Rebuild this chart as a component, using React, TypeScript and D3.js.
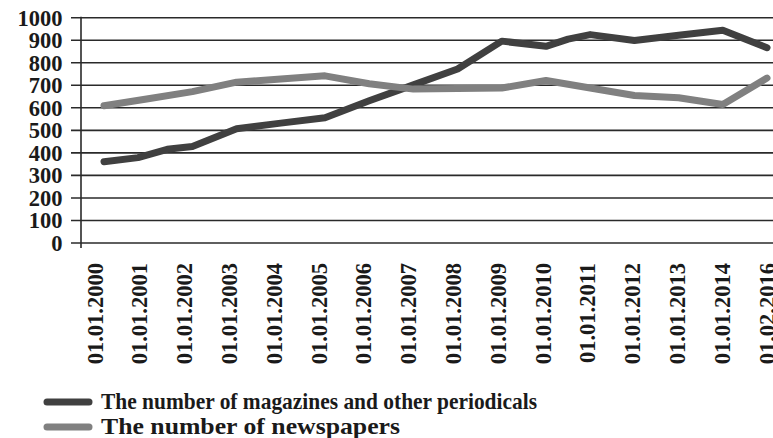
import React from "react";
import * as d3 from "d3";

const xLabels = [
  "01.01.2000", "01.01.2001", "01.01.2002", "01.01.2003", "01.01.2004",
  "01.01.2005", "01.01.2006", "01.01.2007", "01.01.2008", "01.01.2009",
  "01.01.2010", "01.01.2011", "01.01.2012", "01.01.2013", "01.01.2014",
  "01.02.2016",
];
const yTicks = [0, 100, 200, 300, 400, 500, 600, 700, 800, 900, 1000];

// positions in category units (0 = first label, 15 = last label)
const magazinesPos = [0, 0.77, 1.43, 2, 3, 4, 5, 6, 7, 8, 9, 10, 10.5, 11, 12, 13, 14, 15];
const magazinesVals = [361, 379, 416, 428, 507, 532, 556, 631, 702, 772, 896, 873, 905, 925, 899, 922, 944, 867];

const newspapersPos = [0, 1, 2, 3, 4, 5, 6, 7, 8, 9, 10, 11, 12, 13, 14, 15];
const newspapersVals = [609, 640, 672, 714, 728, 742, 707, 683, 686, 688, 721, 688, 655, 645, 615, 732];

const seriesNames = ["The number of magazines and other periodicals", "The number of newspapers"];
const seriesColors = ["#404040", "#808080"];

const W = 773;
const H = 438;
const FONT = "'Liberation Serif', 'Times New Roman', serif";

export default function App() {
  const y = d3.scaleLinear().domain([0, 1000]).range([243, 17.7]);
  const x = d3.scaleLinear().domain([0, 15]).range([104, 767]);
  const xl = d3.scalePoint<string>().domain(xLabels).range([95, 767]);

  const line = d3
    .line<[number, number]>()
    .x((d) => x(d[0]))
    .y((d) => y(d[1]));

  const mag: [number, number][] = magazinesPos.map((p, i) => [p, magazinesVals[i]]);
  const news: [number, number][] = newspapersPos.map((p, i) => [p, newspapersVals[i]]);

  const legendW = [436, 299];

  return (
    <div style={{ position: "absolute", left: 0, top: 0 }}>
      <svg width={W} height={H} style={{ display: "block", background: "#fff" }}>
        {/* gridlines + ticks */}
        {yTicks.map((t) => (
          <line key={t} x1={71} x2={W} y1={y(t)} y2={y(t)} stroke="#2a2a2a" strokeWidth={1.6} />
        ))}
        {/* y axis */}
        <line x1={81} x2={81} y1={y(1000) - 1} y2={248} stroke="#2a2a2a" strokeWidth={1.6} />
        {/* y tick labels */}
        {yTicks.map((t) => (
          <text
            key={t}
            x={62.5}
            y={y(t)}
            dy="0.35em"
            textAnchor="end"
            fontFamily={FONT}
            fontWeight="bold"
            fontSize={22.5}
            fill="#1a1a1a"
          >
            {t}
          </text>
        ))}
        {/* x labels */}
        {xLabels.map((l) => (
          <text
            key={l}
            transform={`translate(${xl(l)},263) rotate(-90)`}
            dy="0.34em"
            textAnchor="end"
            fontFamily={FONT}
            fontWeight="bold"
            fontSize={22.5}
            fill="#1a1a1a"
          >
            {l}
          </text>
        ))}
        {/* series */}
        <path d={line(mag) || ""} fill="none" stroke={seriesColors[0]} strokeWidth={7} strokeLinejoin="round" strokeLinecap="round" />
        <path d={line(news) || ""} fill="none" stroke={seriesColors[1]} strokeWidth={7} strokeLinejoin="round" strokeLinecap="round" />
        {/* legend */}
        {seriesNames.map((n, i) => (
          <g key={n} transform={`translate(0,${402 + i * 25})`}>
            <line x1={47} x2={89} y1={0} y2={0} stroke={seriesColors[i]} strokeWidth={7} strokeLinecap="round" />
            <text
              x={101}
              y={6.5}
              fontFamily={FONT}
              fontWeight="bold"
              fontSize={24}
              fill="#1a1a1a"
              textLength={legendW[i]}
              lengthAdjust="spacingAndGlyphs"
            >
              {n}
            </text>
          </g>
        ))}
      </svg>
    </div>
  );
}
